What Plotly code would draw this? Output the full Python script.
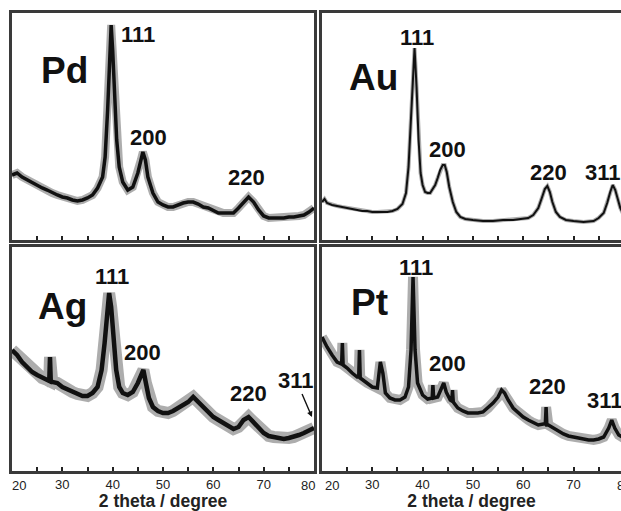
import plotly.graph_objects as go

# ---------------- data (2theta in degrees, intensity in arbitrary units) ----------------
pd_x = [20, 21, 22, 23, 24, 25, 26, 27, 28, 29, 30, 31, 32, 33, 34, 35, 36, 37, 38, 38.5, 39, 39.4, 39.7,
        40.0, 40.4, 40.8, 41.3, 42, 43, 44, 45, 45.6, 46.0, 46.5, 47, 48, 49, 50, 51, 52, 53, 54, 55, 56,
        57, 58, 59, 60, 61, 62, 63, 64, 65, 66, 67, 68, 69, 70, 71, 72, 73, 74, 75, 76, 77, 78, 79, 80]
pd_y = [65, 67, 63, 60, 58, 55, 52, 50, 47, 45, 43, 42, 40, 39, 40, 42, 45, 52, 63, 83, 130, 183, 215,
        190, 140, 100, 73, 58, 50, 53, 67, 80, 88, 80, 63, 47, 38, 35, 33, 33, 35, 37, 38, 38,
        36, 33, 32, 29, 27, 27, 27, 27, 32, 38, 43, 38, 30, 24, 22, 22, 22, 22, 23, 23, 24, 25, 28, 32]

au_x = [20, 20.5, 21, 22, 23, 24, 25, 26, 27, 28, 29, 30, 31, 32, 33, 34, 35, 36, 36.7, 37.2, 37.6, 38.0,
        38.4, 38.8, 39.2, 39.6, 40, 40.5, 41, 41.5, 42, 42.5, 43, 43.5, 44, 44.4, 44.8, 45.3, 46, 46.7,
        47.5, 48.5, 50, 52, 54, 56, 58, 60, 61, 62, 63, 63.7, 64.3, 64.8, 65.3, 65.8, 66.5, 67.3, 68.5,
        70, 72, 74, 75, 76, 76.7, 77.3, 77.8, 78.3, 78.8, 79.3, 80]
au_y = [38, 41, 37, 35, 34, 33, 32, 31, 30, 29, 29, 28, 28, 28, 28, 29, 31, 36, 47, 73, 113, 163,
        192, 153, 100, 67, 55, 48, 47, 47, 51, 55, 62, 70, 75, 75, 68, 53, 38, 28,
        23, 21, 20, 19, 19, 20, 20, 21, 22, 25, 32, 42, 51, 54, 48, 38, 28, 23, 20,
        19, 18, 19, 22, 27, 37, 48, 55, 50, 40, 32, 25]

ag_x = [20, 21, 22, 23, 24, 25, 26, 27, 27.4, 27.55, 27.7, 28, 29, 30, 31, 32, 33, 34, 35, 36, 37, 37.8,
        38.4, 38.9, 39.3, 39.7, 40.2, 40.7, 41.3, 42, 43, 44, 45, 45.6, 46.1, 46.6, 47.2, 48, 49, 50, 51,
        52, 53, 54, 55, 56, 57, 58, 59, 60, 61, 62, 63, 64, 65, 66, 67, 68, 69, 70, 71, 72, 73, 74, 75,
        76, 77, 78, 79, 80]
ag_y = [121, 116, 109, 104, 99, 96, 93, 91, 90, 114, 90, 89, 88, 84, 82, 79, 77, 75, 75, 78, 84, 101,
        128, 158, 178, 164, 128, 101, 84, 78, 76, 79, 88, 96, 101, 88, 73, 64, 60, 58, 58,
        60, 63, 66, 69, 74, 69, 63, 58, 54, 51, 48, 44, 42, 44, 51, 54, 49, 43, 38, 35, 34, 33, 32, 33,
        34, 36, 38, 40, 43]

pt_x = [20, 21, 22, 23, 23.9, 24.05, 24.2, 25, 26, 27, 27.3, 27.45, 27.6, 29, 30, 31, 31.6, 32.1, 32.6,
        33.5, 34.5, 35.5, 36.5, 37.2, 37.7, 38.1, 38.5, 39, 40, 41, 41.9, 42.05, 42.2, 43, 43.7, 44.2,
        44.7, 45.5, 45.8, 45.95, 46.1, 47, 48, 49, 50, 51, 52, 53, 54, 55, 55.7, 56.3, 57, 58, 59, 60,
        61, 62, 63, 64, 64.4, 64.55, 64.7, 65, 66, 67, 68, 69, 70, 71, 72, 73, 74, 75, 76, 77, 77.6,
        78.2, 79, 80]
pt_y = [134, 124, 116, 109, 107, 128, 106, 103, 98, 94, 94, 121, 93, 88, 84, 83, 109, 98, 78,
        73, 71, 71, 74, 84, 121, 194, 121, 88, 76, 72, 73, 86, 73, 74, 83, 88,
        79, 71, 70, 81, 69, 63, 60, 58, 58, 58, 59, 63, 68, 74, 81, 78, 71, 63, 58, 54,
        51, 48, 46, 47, 47, 64, 46, 46, 43, 39, 37, 35, 34, 33, 32, 31, 31, 32, 34, 43, 51,
        43, 36, 33]

# peak labels: (text, x, y)
pd_labels = [("111", 45.1, 205), ("200", 47.1, 102), ("220", 66.6, 62)]
au_labels = [("111", 38.9, 202), ("200", 44.9, 90), ("220", 65.0, 67), ("311", 75.9, 67)]
ag_labels = [("111", 39.9, 195), ("200", 45.9, 119), ("220", 67.0, 78)]
pt_labels = [("111", 38.7, 204), ("200", 44.9, 108), ("220", 64.8, 85), ("311", 76.3, 71)]

tick_vals = [20, 25, 30, 35, 40, 45, 50, 55, 60, 65, 70, 75, 80]
# interior labels drawn by the axes; the edge labels (20 / 80) are nudged inward like the original
tick_text = ["", "", "30", "", "40", "", "50", "", "60", "", "70", "", ""]
edge_labels = [("20", 18.5), ("80", 308), ("20", 331.5), ("80", 624)]  # (text, pixel x)
x_title = "2 theta / degree"

# ---------------- figure ----------------
W, H = 621, 511
fig = go.Figure()

def px_x(p):
    return p / W

def px_y(p):
    return 1 - p / H

xl = [px_x(12), px_x(314)]
xr = [px_x(322), 1.0]
yt = [px_y(240), px_y(13)]
yb = [px_y(471), px_y(247)]
right_end = 20 + (W - 322) / 5.03

panels = [
    # name, xs, ys, xaxis id, yaxis id, band width, line width
    ("Pd", pd_x, pd_y, "x", "y", 8, 3.5),
    ("Au", au_x, au_y, "x2", "y2", 4, 2),
    ("Ag", ag_x, ag_y, "x3", "y3", 12, 4.5),
    ("Pt", pt_x, pt_y, "x4", "y4", 10, 3.5),
]

for name, xs, ys, xa, ya, band, lw in panels:
    fig.add_trace(go.Scatter(x=xs, y=ys, xaxis=xa, yaxis=ya, mode="lines",
                             line=dict(color="rgba(0,0,0,0.32)", width=band),
                             showlegend=False, hoverinfo="skip"))
    fig.add_trace(go.Scatter(x=xs, y=ys, xaxis=xa, yaxis=ya, mode="lines", name=name,
                             line=dict(color="#111111", width=lw), showlegend=False))

frame = dict(showline=True, linecolor="#3a3a3a", linewidth=2.5, showgrid=False, zeroline=False,
             automargin=False)
tickfont = dict(family="Liberation Sans, Arial, sans-serif", size=13, color="#222")

def xaxis(domain, rng, show_labels, anchor):
    d = dict(domain=domain, range=rng, anchor=anchor, ticks="inside", ticklen=4, tickwidth=1.5,
             tickcolor="#222", tickmode="array", tickvals=tick_vals, ticktext=tick_text,
             showticklabels=show_labels, tickfont=tickfont, ticklabeloverflow="allow",
             mirror=True, **frame)
    if show_labels:
        d["title"] = dict(text="<b>" + x_title + "</b>", standoff=2,
                          font=dict(family="Liberation Sans, Arial, sans-serif", size=17.5, color="#222"))
    return d

def yaxis(domain, rng, anchor, mirror=True):
    return dict(domain=domain, range=rng, anchor=anchor, showticklabels=False, ticks="",
                mirror=mirror, **frame)

fig.update_layout(
    width=W, height=H, margin=dict(l=0, r=0, t=0, b=0),
    paper_bgcolor="white", plot_bgcolor="white",
    xaxis=xaxis(xl, [20, 80], False, "y"),
    yaxis=yaxis(yt, [0, 227], "x"),
    xaxis2=xaxis(xr, [20, right_end], False, "y2"),
    yaxis2=yaxis(yt, [0, 227], "x2", mirror=False),
    xaxis3=xaxis(xl, [20, 80], True, "y3"),
    yaxis3=yaxis(yb, [0, 224], "x3"),
    xaxis4=xaxis(xr, [20, right_end], True, "y4"),
    yaxis4=yaxis(yb, [0, 224], "x4", mirror=False),
)

bold = dict(family="Liberation Sans, Arial, sans-serif", color="#111")
annotations = []

def add_labels(labels, xa, ya):
    for t, x, y in labels:
        annotations.append(dict(text="<b>" + t + "</b>", x=x, y=y, xref=xa, yref=ya, showarrow=False,
                                xanchor="center", yanchor="middle", font=dict(size=22, **bold)))

add_labels(pd_labels, "x", "y")
add_labels(au_labels, "x2", "y2")
add_labels(ag_labels, "x3", "y3")
add_labels(pt_labels, "x4", "y4")

# metal names
for name, x, y, xa, ya in [("Pd", 30.4, 169, "x", "y"), ("Au", 30.2, 162, "x2", "y2"),
                           ("Ag", 30.0, 165, "x3", "y3"), ("Pt", 29.4, 169, "x4", "y4")]:
    annotations.append(dict(text="<b>" + name + "</b>", x=x, y=y, xref=xa, yref=ya, showarrow=False,
                            xanchor="center", yanchor="middle", font=dict(size=37, **bold)))

# Ag 311 with arrow
annotations.append(dict(text="<b>311</b>", x=79.6, y=54, xref="x3", yref="y3", showarrow=True,
                        ax=-16, ay=-37, arrowhead=2, arrowsize=0.8, arrowwidth=1.4, arrowcolor="#111",
                        font=dict(size=22, **bold)))

# edge tick labels
for t, p in edge_labels:
    annotations.append(dict(text=t, x=px_x(p), y=px_y(485), xref="paper", yref="paper",
                            showarrow=False, xanchor="center", yanchor="middle", font=tickfont))

fig.update_layout(annotations=annotations)

fig.write_html("out.html")
